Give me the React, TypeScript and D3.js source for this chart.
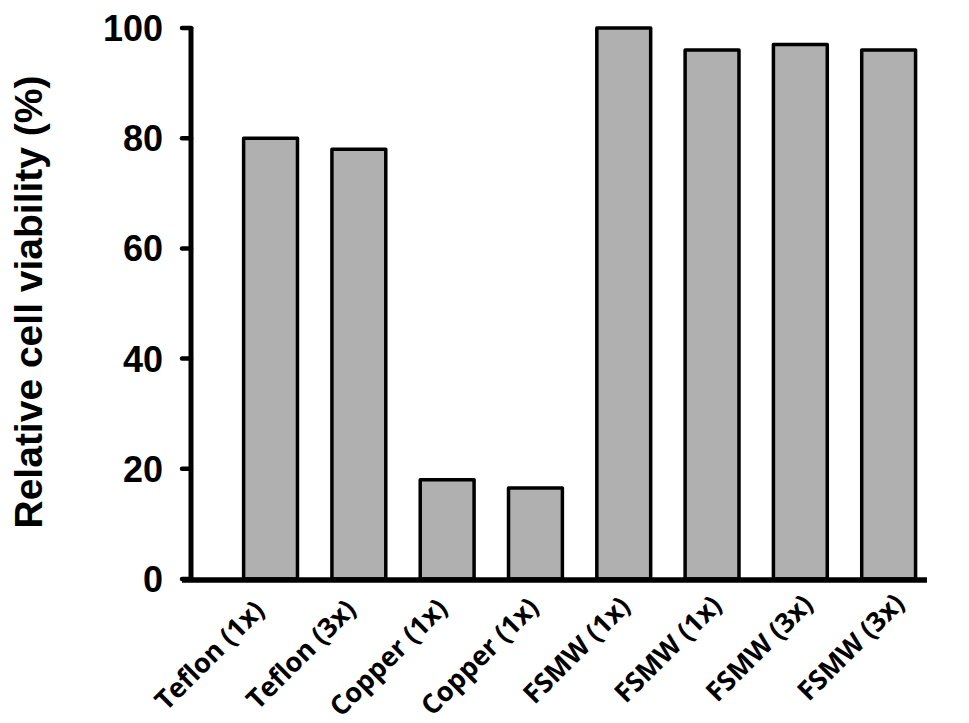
import React from "react";
import * as d3 from "d3";

const categories = [
  "Teflon (1x)",
  "Teflon (3x)",
  "Copper (1x)",
  "Copper (1x)",
  "FSMW (1x)",
  "FSMW (1x)",
  "FSMW (3x)",
  "FSMW (3x)",
];
const values = [80, 78, 18, 16.5, 100, 96, 97, 96];
const yTicks = [0, 20, 40, 60, 80, 100];
const yTitle = "Relative cell viability (%)";

const W = 969;
const H = 723;
const axisX = 191;
const axisEnd = 927;
const yTop = 28;
const yBottom = 579;

export default function App() {
  const x = d3
    .scaleBand<number>()
    .domain(d3.range(categories.length))
    .range([226.4, 932.8])
    .paddingInner(0.39)
    .paddingOuter(0.195);
  // category labels sit on a slightly wider spacing than the bars
  const xLabel = d3
    .scalePoint<number>()
    .domain(d3.range(categories.length))
    .range([266, 906]);
  const y = d3.scaleLinear().domain([0, 100]).range([yBottom, yTop]);
  const font = "'Liberation Sans', Arial, sans-serif";

  return (
    <svg
      width={W}
      height={H}
      style={{ position: "absolute", left: 0, top: 0, background: "#fff" }}
      fontFamily={font}
    >
      {/* bars */}
      {values.map((v, i) => (
        <rect
          key={i}
          x={x(i)!}
          y={y(v)}
          width={x.bandwidth()}
          height={y(0) - y(v)}
          fill="#b0b0b0"
          stroke="#000"
          strokeWidth={3.5}
          strokeLinejoin="round"
        />
      ))}
      {/* y axis */}
      <line x1={axisX} x2={axisX} y1={yTop - 1} y2={yBottom + 3} stroke="#000" strokeWidth={5} />
      {yTicks.map((t) => (
        <g key={t}>
          <line x1={axisX - 9} x2={axisX} y1={y(t)} y2={y(t)} stroke="#000" strokeWidth={4.5} strokeLinecap="round" />
          <text
            x={163}
            y={y(t)}
            dy="0.36em"
            textAnchor="end"
            fontSize={36}
            fontWeight="bold"
          >
            {t}
          </text>
        </g>
      ))}
      {/* x axis */}
      <line x1={axisX - 9} x2={axisEnd} y1={yBottom + 1} y2={yBottom + 1} stroke="#000" strokeWidth={5.5} />
      {categories.map((c, i) => (
        <text
          key={i}
          transform={`translate(${xLabel(i)},${612 - i}) rotate(-45)`}
          textAnchor="end"
          fontSize={27}
          fontWeight="bold"
          fontFamily="'Open Sans', sans-serif"
        >
          {c}
        </text>
      ))}
      <text
        transform={`translate(42,302) rotate(-90)`}
        textAnchor="middle"
        fontSize={39}
        fontWeight="bold"
      >
        {yTitle}
      </text>
    </svg>
  );
}
